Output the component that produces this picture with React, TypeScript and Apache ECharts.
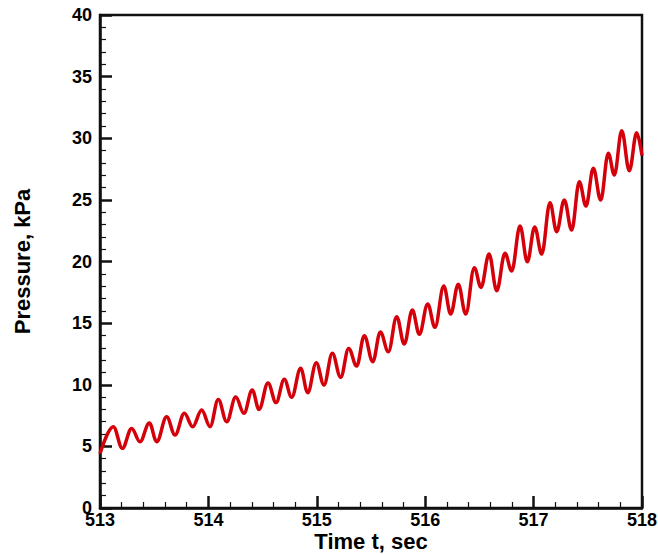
import React, { useEffect, useRef } from "react";
import * as echarts from "echarts";

// Tick values
const xTickMin = 513;
const xTickMax = 518;
const yTickMin = 0;
const yTickMax = 40;

// Pressure trace (local maxima / minima)
const timeSec = [
  513.0, 513.123, 513.206, 513.292, 513.369, 513.455, 513.523, 513.615, 513.692, 513.778,
  513.855, 513.938, 514.015, 514.091, 514.169, 514.252, 514.328, 514.404, 514.467, 514.55,
  514.624, 514.7, 514.768, 514.851, 514.916, 514.995, 515.066, 515.143, 515.22, 515.294,
  515.368, 515.438, 515.516, 515.586, 515.66, 515.737, 515.807, 515.881, 515.946, 516.023,
  516.09, 516.171, 516.235, 516.305, 516.374, 516.453, 516.515, 516.589, 516.66, 516.736,
  516.798, 516.875, 516.942, 517.01, 517.075, 517.151, 517.213, 517.283, 517.351, 517.422,
  517.483, 517.551, 517.619, 517.689, 517.745, 517.813, 517.883, 517.951, 518.0,
];
const pressureKPa = [
  4.4, 6.6, 4.84, 6.46, 5.38, 6.9, 5.38, 7.4, 5.92, 7.68,
  6.6, 7.95, 6.6, 8.8, 7.0, 9.0, 7.68, 9.57, 8.0, 10.15,
  8.55, 10.44, 8.98, 11.33, 9.36, 11.79, 9.98, 12.55, 10.6, 12.95,
  11.52, 13.98, 11.87, 14.28, 12.68, 15.52, 13.3, 16.06, 14.1, 16.55,
  14.66, 18.01, 15.74, 18.15, 15.74, 19.5, 17.9, 20.6, 17.63, 20.67,
  19.23, 22.88, 19.98, 22.8, 20.6, 24.77, 22.42, 24.99, 22.56, 26.47,
  24.5, 27.56, 24.99, 28.78, 27.02, 30.61, 27.37, 30.45, 28.6,
];

const FONT = '"Liberation Sans", Arial, Helvetica, sans-serif';

export default function App() {
  const ref = useRef<HTMLDivElement>(null);
  useEffect(() => {
    const chart = echarts.init(ref.current!, null, { renderer: "svg" });
    const data = timeSec.map((t, i) => [t, pressureKPa[i]]);
    chart.setOption({
      animation: false,
      backgroundColor: "#ffffff",
      grid: {
        left: 100,
        right: 16,
        top: 15,
        bottom: 46,
        outerBoundsMode: "none",
        containLabel: false,
        show: true,
        borderColor: "#111111",
        borderWidth: 2.5,
        backgroundColor: "transparent",
      },
      xAxis: {
        type: "value",
        min: xTickMin,
        max: xTickMax,
        interval: 1,
        name: "Time t, sec",
        nameLocation: "middle",
        nameGap: 23,
        nameMoveOverlap: false,
        nameTextStyle: { fontFamily: FONT, fontWeight: "bold", fontSize: 22, lineHeight: 20, color: "#000" },
        axisLine: { show: true, lineStyle: { color: "#111", width: 2.5 } },
        axisTick: { show: true, inside: true, length: 12, lineStyle: { color: "#111", width: 2.5 } },
        minorTick: { show: true, splitNumber: 5, length: 6, lineStyle: { color: "#111", width: 1.2 } },
        splitLine: { show: false },
        axisLabel: { fontFamily: FONT, fontWeight: "bold", fontSize: 18, lineHeight: 16, color: "#000", margin: 4 },
      },
      yAxis: {
        type: "value",
        min: yTickMin,
        max: yTickMax,
        interval: 5,
        name: "Pressure, kPa",
        nameLocation: "middle",
        nameGap: 67,
        nameMoveOverlap: false,
        nameTextStyle: { fontFamily: FONT, fontWeight: "bold", fontSize: 22, color: "#000" },
        axisLine: { show: true, lineStyle: { color: "#111", width: 2.5 } },
        axisTick: { show: true, inside: true, length: 12, lineStyle: { color: "#111", width: 2.5 } },
        minorTick: { show: true, splitNumber: 5, length: 6, lineStyle: { color: "#111", width: 1.2 } },
        splitLine: { show: false },
        axisLabel: { fontFamily: FONT, fontWeight: "bold", fontSize: 18, color: "#000", margin: 8 },
      },
      series: [
        {
          type: "line",
          data,
          smooth: 0.37,
          smoothMonotone: "x",
          showSymbol: false,
          symbol: "none",
          lineStyle: { color: "#d4000a", width: 3.5 },
        },
      ],
    });
    return () => chart.dispose();
  }, []);
  return (
    <div
      ref={ref}
      style={{ position: "fixed", left: 0, top: 0, width: 658, height: 554, background: "#fff" }}
    />
  );
}
